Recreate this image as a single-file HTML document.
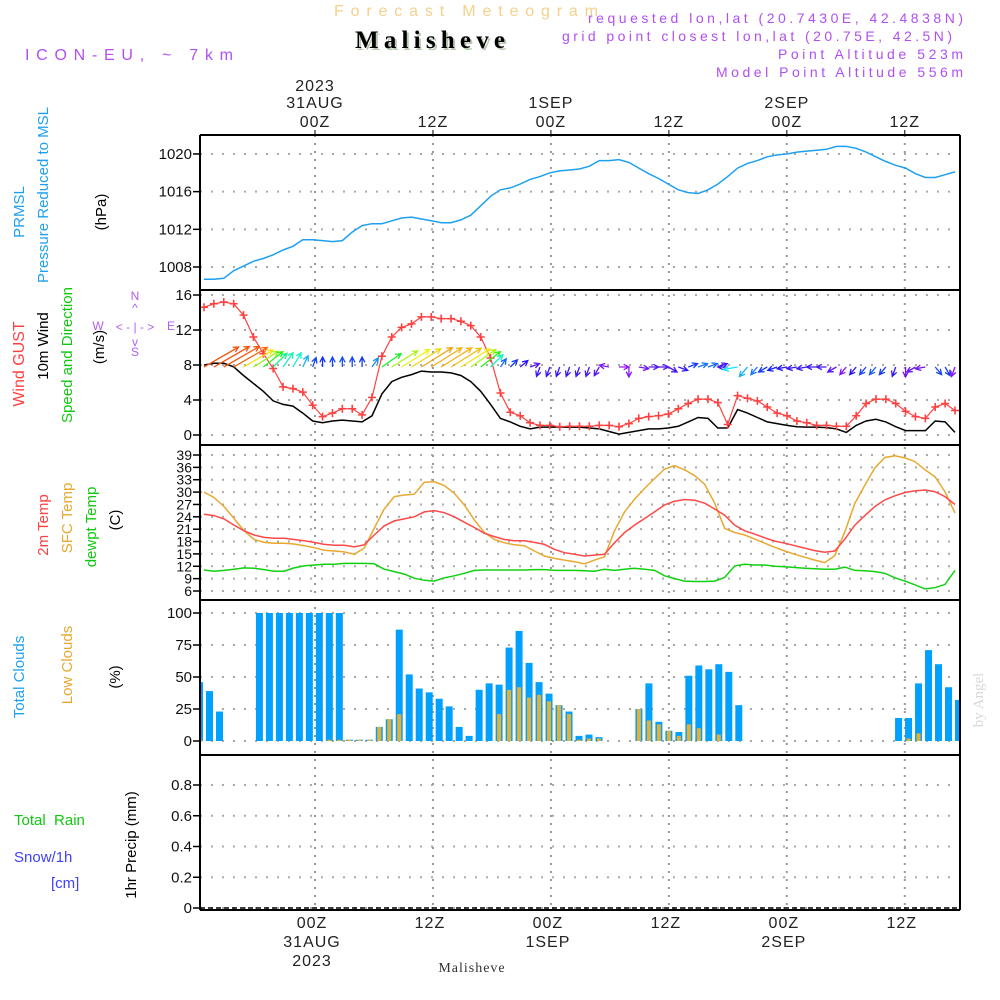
<!DOCTYPE html>
<html><head><meta charset="utf-8"><title>Meteogram Malisheve</title>
<style>
html,body{margin:0;padding:0;background:#fff;}
svg{display:block;font-family:"Liberation Sans",sans-serif;}
.lab{font-size:15px;}
</style></head>
<body>
<svg id="chart" width="1000" height="1000" viewBox="0 0 1000 1000">
<rect x="0" y="0" width="1000" height="1000" fill="#fff"/>
<text x="334" y="16" font-size="16" fill="#f5d08c" textLength="264" lengthAdjust="spacing">Forecast Meteogram</text>
<text x="357" y="50" font-size="25" font-weight="bold" font-family="Liberation Serif,serif" fill="#b9c9b3" textLength="150" lengthAdjust="spacing">Malisheve</text>
<text x="355" y="48" font-size="25" font-weight="bold" font-family="Liberation Serif,serif" fill="#000" textLength="150" lengthAdjust="spacing">Malisheve</text>
<text x="25" y="60" font-size="16" fill="#b050f0" textLength="208" lengthAdjust="spacing">ICON-EU, ~ 7km</text>
<g font-size="14" fill="#b050f0">
<text x="588" y="23" textLength="375" lengthAdjust="spacing">requested lon,lat (20.7430E, 42.4838N)</text>
<text x="562" y="41" textLength="390" lengthAdjust="spacing">grid point closest lon,lat (20.75E, 42.5N)</text>
<text x="778" y="59" textLength="185" lengthAdjust="spacing">Point Altitude 523m</text>
<text x="716" y="77" textLength="247" lengthAdjust="spacing">Model Point Altitude 556m</text>
</g>
<g id="grid"></g>
<g id="marks"></g>
<g id="frames"></g>
<g id="axes"></g>

<g class="lab">
<text transform="translate(24,212) rotate(-90)" text-anchor="middle" fill="#1ea0f0">PRMSL</text>
<text transform="translate(48,195) rotate(-90)" text-anchor="middle" fill="#1ea0f0">Pressure Reduced to MSL</text>
<text transform="translate(106,212) rotate(-90)" text-anchor="middle" fill="#000">(hPa)</text>
<text transform="translate(24,364) rotate(-90)" text-anchor="middle" font-size="16" fill="#ff4040">Wind GUST</text>
<text transform="translate(48,346) rotate(-90)" text-anchor="middle" fill="#000">10m Wind</text>
<text transform="translate(72,355) rotate(-90)" text-anchor="middle" fill="#10c810">Speed and Direction</text>
<text transform="translate(104,347) rotate(-90)" text-anchor="middle" fill="#000">(m/s)</text>
<text transform="translate(48,525) rotate(-90)" text-anchor="middle" fill="#ff4040">2m Temp</text>
<text transform="translate(72,518) rotate(-90)" text-anchor="middle" fill="#e8a830">SFC Temp</text>
<text transform="translate(96,527) rotate(-90)" text-anchor="middle" fill="#10c810">dewpt Temp</text>
<text transform="translate(120,520) rotate(-90)" text-anchor="middle" fill="#000">(C)</text>
<text transform="translate(24,677) rotate(-90)" text-anchor="middle" fill="#1ea0f0">Total Clouds</text>
<text transform="translate(72,665) rotate(-90)" text-anchor="middle" fill="#e8a830">Low Clouds</text>
<text transform="translate(120,677) rotate(-90)" text-anchor="middle" fill="#000">(%)</text>
<text x="14" y="825" fill="#10c810" xml:space="preserve">Total  Rain</text>
<text x="14" y="862" fill="#4040ff">Snow/1h</text>
<text x="51" y="888" fill="#4040ff">[cm]</text>
<text transform="translate(136,845) rotate(-90)" text-anchor="middle" fill="#000">1hr Precip (mm)</text>
</g>
<g font-size="12" fill="#b060f0">
<text x="135" y="300" text-anchor="middle">N</text>
<text x="135" y="312" text-anchor="middle">^</text>
<text x="135" y="331" text-anchor="middle" xml:space="preserve">&lt; - | - &gt;</text>
<text x="98" y="330" text-anchor="middle">W</text>
<text x="171" y="330" text-anchor="middle">E</text>
<text x="135" y="346" text-anchor="middle">v</text>
<text x="135" y="356" text-anchor="middle">S</text>
</g>
<text transform="translate(983,700) rotate(-90)" text-anchor="middle" font-size="15" font-family="Liberation Serif,serif" fill="#d8d8d8">by Angel</text>
<text x="472" y="972" text-anchor="middle" font-size="14" font-family="Liberation Serif,serif" fill="#333" letter-spacing="1">Malisheve</text>

<script>
// ---- data ----
const pressure = [1006.7,1006.7,1006.8,1007.6,1008.1,1008.6,1008.9,1009.3,1009.8,1010.2,1010.9,1010.9,1010.8,1010.7,1010.8,1011.7,1012.4,1012.6,1012.6,1012.9,1013.2,1013.3,1013.1,1012.9,1012.7,1012.7,1013.0,1013.5,1014.5,1015.5,1016.2,1016.4,1016.8,1017.3,1017.6,1018.0,1018.2,1018.3,1018.4,1018.7,1019.3,1019.3,1019.4,1019.1,1018.5,1017.9,1017.4,1016.8,1016.2,1015.9,1015.8,1016.2,1016.8,1017.6,1018.5,1019.0,1019.3,1019.7,1019.9,1020.0,1020.2,1020.3,1020.4,1020.5,1020.8,1020.8,1020.6,1020.2,1019.7,1019.2,1018.8,1018.5,1017.9,1017.5,1017.5,1017.8,1018.1];
const gust = [14.6,15.0,15.2,15.0,13.7,11.2,9.3,7.6,5.5,5.3,4.9,3.4,2.1,2.5,3.0,3.0,2.3,4.3,9.0,11.2,12.3,12.7,13.5,13.5,13.3,13.3,13.0,12.5,11.2,8.8,4.8,2.6,2.2,1.4,1.1,1.1,0.95,1.0,1.0,1.0,1.1,1.1,0.95,1.3,1.9,2.1,2.2,2.4,3.0,3.6,4.1,4.1,3.7,1.2,4.5,4.2,3.9,3.2,2.5,2.2,1.6,1.4,1.1,1.1,1.0,1.0,2.2,3.6,4.1,4.1,3.6,2.7,2.1,1.9,3.2,3.6,2.8];
const wind10m = [8.0,8.2,8.2,7.8,6.8,5.9,5.0,3.9,3.5,3.3,2.5,1.6,1.4,1.6,1.7,1.6,1.5,2.2,4.7,6.1,6.6,6.9,7.3,7.2,7.2,7.1,6.8,6.1,5.0,3.5,1.9,1.5,1.0,0.7,0.9,0.9,0.9,0.9,0.9,0.8,0.7,0.4,0.1,0.3,0.5,0.7,0.7,0.8,1.0,1.5,2.0,1.9,0.8,0.8,2.9,2.5,2.0,1.5,1.3,1.1,0.95,0.9,0.9,0.85,0.7,0.3,1.1,1.6,1.8,1.5,0.95,0.5,0.5,0.5,1.6,1.5,0.3];
const windDir = [240,240,240,240,240,238,232,225,215,210,205,200,180,180,180,180,180,215,235,238,238,238,238,238,238,238,238,235,232,225,215,225,230,250,20,20,20,20,20,20,30,100,270,0,280,270,270,300,290,250,250,250,250,90,80,40,40,60,70,80,80,80,90,90,60,40,40,40,40,40,20,0,60,80,320,330,20];
const temp2m = [24.6,24.3,23.5,22.0,20.6,19.6,19.0,18.8,18.8,18.5,18.2,17.8,17.3,17.1,17.1,16.7,17.2,19.6,21.8,23.0,23.5,24.0,25.2,25.5,25.0,24.0,22.7,21.4,20.0,19.2,18.5,18.2,18.2,17.8,17.3,16.1,15.3,14.9,14.5,14.7,14.9,17.7,20.2,22.0,23.6,25.2,26.9,27.8,28.2,28.0,27.3,25.9,24.4,22.0,20.6,19.8,18.9,18.1,17.6,17.0,16.4,15.8,15.4,15.7,18.6,22.0,24.3,26.5,28.1,29.1,29.9,30.3,30.5,30.1,28.9,27.0];
const tempSfc = [30.0,28.7,26.5,23.6,20.6,18.5,17.8,17.6,17.6,17.4,17.0,16.5,15.9,15.7,15.5,14.9,16.4,21.2,25.9,28.9,29.3,29.5,32.4,32.5,31.6,29.7,26.9,23.2,20.2,18.5,17.7,17.2,17.0,15.7,14.5,13.9,13.5,13.1,12.6,13.5,14.3,20.6,25.2,28.3,30.9,33.3,35.6,36.4,35.4,34.0,31.9,27.3,21.2,20.2,19.6,18.6,17.6,16.6,15.7,14.9,14.2,13.5,12.9,14.6,20.4,27.3,31.7,35.9,38.4,38.8,38.3,37.4,35.4,33.7,30.1,24.9];
const dewpt = [11.1,10.8,11.0,11.3,11.6,11.5,11.2,10.8,10.8,11.6,12.1,12.3,12.5,12.5,12.7,12.7,12.7,12.6,11.3,10.7,10.1,9.1,8.6,8.4,9.2,9.7,10.3,11.0,11.1,11.1,11.1,11.1,11.1,11.2,11.2,11.0,11.0,11.0,10.9,10.8,11.3,11.0,11.3,11.5,11.3,11.0,9.7,9.0,8.4,8.3,8.3,8.4,9.3,12.1,12.5,12.3,12.3,12.0,11.9,11.7,11.5,11.4,11.3,11.3,11.8,11.0,10.9,10.7,10.3,9.2,8.4,7.5,6.5,6.8,7.6,11.0];
const totalCloud = [46,39,23,0,0,0,100,100,100,100,100,100,100,100,100,1,1,1,11,17,87,52,41,38,33,27,11,4,40,45,44,73,86,61,46,37,28,23,4,5,3,0,0,0,25,45,15,8,7,51,59,56,60,54,28,0,0,0,0,0,0,0,0,0,0,0,0,0,0,0,18,18,45,71,60,42,32];
const lowCloud = [2,0,0,0,0,0,0,0,0,0,0,0,0,1,1,1,1,1,11,17,21,0,0,0,0,0,0,0,0,0,21,40,42,34,36,31,28,21,1,2,2,0,0,0,25,16,13,8,4,13,10,0,5,0,0,0,0,0,0,0,0,0,0,0,0,0,0,0,0,0,0,2,6,0,0,0,0];
const pTicks = [1008,1012,1016,1020];
const wTicks = [0,4,8,12,16];
const tTicks = [6,9,12,15,18,21,24,27,30,33,36,39];
const cTicks = [0,25,50,75,100];
const rTicks = [0,0.2,0.4,0.6,0.8];
const rTickLabels = ["0","0.2","0.4","0.6","0.8"];
const timeHours = [0,12,24,36,48,60];
const topLabels = [["2023","31AUG","00Z"],["","","12Z"],["","1SEP","00Z"],["","","12Z"],["","2SEP","00Z"],["","","12Z"]];
const botLabels = [["00Z","31AUG","2023"],["12Z","",""],["00Z","1SEP",""],["12Z","",""],["00Z","2SEP",""],["12Z","",""]];

// ---- scales ----
const NS="http://www.w3.org/2000/svg";
const L=200,R=960;
const yP=v=>267-(v-1008)*9.42;
const yW=v=>435-v*8.75;
const yT=v=>591-(v-6)*4.121;
const yC=v=>741-v*1.28;
const yR=v=>908-v*153.75;
const xH=h=>315+h*9.83;
const xS=(i,n)=>204+i*(751/(n-1));
const xBar=(i,n)=>199.5+i*(759/(n-1));
function mk(tag,attrs,parent){const e=document.createElementNS(NS,tag);for(const k in attrs)e.setAttribute(k,attrs[k]);parent.appendChild(e);return e;}
const grid=document.getElementById('grid'),marks=document.getElementById('marks'),frames=document.getElementById('frames'),axes=document.getElementById('axes');
const clip=mk('clipPath',{id:'plotclip'},mk('defs',{},document.getElementById('chart')));
mk('rect',{x:L,y:135,width:R-L,height:775},clip);
marks.setAttribute('clip-path','url(#plotclip)');

const hgrid=[[pTicks,yP],[wTicks,yW],[tTicks,yT],[cTicks,yC],[rTicks,yR]];
hgrid.forEach(([ticks,f])=>ticks.forEach(t=>{
  const g=mk('line',{x1:L,x2:R,y1:f(t),y2:f(t),stroke:'#aaa','stroke-width':2,'stroke-dasharray':'2 9'},grid);
  
  
  const tk=mk('line',{x1:L-7,x2:L,y1:f(t),y2:f(t),stroke:'#000','stroke-width':1.5},axes);
  
  
}));
timeHours.forEach(h=>{
  const g=mk('line',{x1:xH(h),x2:xH(h),y1:135,y2:910,stroke:'#999','stroke-width':2,'stroke-dasharray':'2 6'},grid);
  
  
});

function tickLabels(ticks,f,labels,fs){ticks.forEach((t,i)=>{
  const e=mk('text',{x:192,y:f(t)+5,'text-anchor':'end','font-size':fs,fill:'#111'},axes);
  e.textContent=labels?labels[i]:String(t);
  
  
});}
tickLabels(pTicks,yP,null,15);
tickLabels(wTicks,yW,null,15);
tickLabels(tTicks,yT,null,14);
tickLabels(cTicks,yC,null,15);
tickLabels(rTicks,yR,rTickLabels,15);

timeHours.forEach((h,i)=>{
  topLabels[i].forEach((s,j)=>{ if(!s)return;
    const e=mk('text',{x:xH(h),y:[91,108,127][j],'text-anchor':'middle','font-size':16,fill:'#222','letter-spacing':1},axes);
    e.textContent=s;
    
    
  });
  botLabels[i].forEach((s,j)=>{ if(!s)return;
    const e=mk('text',{x:xH(h)-3,y:[928,947,966][j],'text-anchor':'middle','font-size':16,fill:'#222','letter-spacing':1},axes);
    e.textContent=s;
    
    
  });
  const t1=mk('line',{x1:xH(h),x2:xH(h),y1:130,y2:135,stroke:'#000'},axes);
  
  
});

[135,290,445,600,755,910].forEach(y=>{
  const f=mk('line',{x1:L,x2:R,y1:y,y2:y,stroke:'#000','stroke-width':2},frames);
  
  
});
[L,R].forEach(x=>{
  const f=mk('line',{x1:x,x2:x,y1:135,y2:910,stroke:'#000','stroke-width':2},frames);
  
  
});
const zl=mk('line',{x1:L,x2:R,y1:yR(0),y2:yR(0),stroke:'#000','stroke-width':1.5,'stroke-dasharray':'5 3'},frames);



function line(arr,f,color,name,w){
  const d=arr.map((v,i)=>(i?'L':'M')+xS(i,arr.length).toFixed(1)+','+f(v).toFixed(1)).join('');
  const p=mk('path',{d:d,fill:'none',stroke:color,'stroke-width':w||1.5},marks);
  
  
}

totalCloud.forEach((v,i)=>{
  const cx=xBar(i,totalCloud.length);
  const b=mk('rect',{x:cx-3.5,y:yC(v),width:7,height:yC(0)-yC(v),fill:'#00a0ff'},marks);
  
  
});
lowCloud.forEach((v,i)=>{
  if(v<=0)return;
  const cx=xBar(i,lowCloud.length);
  const b=mk('rect',{x:cx-2,y:yC(v),width:4,height:yC(0)-yC(v),fill:'#e8b030'},marks);
  
  
});

line(pressure,yP,'#1ea0f0','pressure-line',1.5);
line(wind10m,yW,'#000','wind-10m-line',1.5);
line(gust,yW,'#ff4040','wind-gust-line',1.2);
gust.forEach((v,i)=>{
  const x=xS(i,gust.length),y=yW(v);
  const m=mk('path',{d:`M${x-4},${y}H${x+4}M${x},${y-4}V${y+4}`,stroke:'#ff4040','stroke-width':1.6},marks);
  
  
});
windDir.forEach((d,i)=>{
  const sp=wind10m[i];
  const len=Math.max(10,sp*5);
  const b=(d+180)*Math.PI/180;
  const x0=xS(i,windDir.length),y0=367;
  const x1=x0+Math.sin(b)*len,y1=y0-Math.cos(b)*len;
  const hue=Math.max(18,Math.min(280,280-sp*33));
  const col=`hsl(${hue},90%,52%)`;
  const a1=b+Math.PI*0.85,a2=b-Math.PI*0.85;
  const dd=`M${x0},${y0}L${x1},${y1}M${x1+Math.sin(a1)*6},${y1-Math.cos(a1)*6}L${x1},${y1}L${x1+Math.sin(a2)*6},${y1-Math.cos(a2)*6}`;
  const p=mk('path',{d:dd,fill:'none',stroke:col,'stroke-width':1.3},marks);
  
  
});
line(tempSfc,yT,'#e8a830','sfc-temp-line',1.5);
line(temp2m,yT,'#ff4848','temp-2m-line',1.5);
line(dewpt,yT,'#10d010','dewpoint-line',1.5);
</script>
</svg>
</body></html>
